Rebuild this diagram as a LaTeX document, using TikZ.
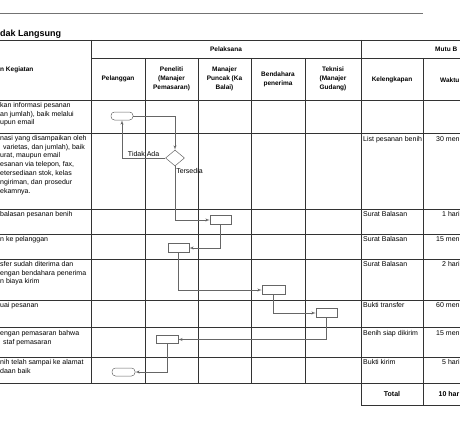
\documentclass[tikz,border=0pt]{standalone}
\usepackage{fontspec}
\setmainfont{Liberation Sans}
\usepackage{tikz}
\usetikzlibrary{arrows,positioning,shapes.geometric}
\colorlet{ln}{black!80}
\colorlet{fl}{black!60}
\newcommand{\tsz}{\fontsize{7}{8.8}\selectfont}
\newcommand{\hsz}{\fontsize{6.5}{9}\selectfont\bfseries}
\tikzset{gline/.style={draw=ln, line width=0.6pt},
         hd/.style={font=\hsz, align=center, inner sep=0pt},
         tx/.style={font=\tsz, align=left, inner sep=0pt, anchor=north west},
         term/.style={draw=fl, rounded corners=3.5pt, minimum width=22pt,
            minimum height=8pt, inner sep=0pt, line width=0.5pt},
         proc/.style={draw=fl, minimum width=21pt, minimum height=9pt,
            inner sep=0pt, line width=0.5pt},
         dec/.style={draw=fl, diamond, minimum width=19pt, minimum height=16pt,
            inner sep=0pt, line width=0.5pt},
         flow/.style={draw=fl, line width=0.5pt, ->, >=latex'},
         lbl/.style={font=\tsz, inner sep=1pt}}

\begin{document}
\begin{tikzpicture}[x=1pt, y=-1pt]
\useasboundingbox (0,0) rectangle (460,420);
\clip (0,0) rectangle (460,420);
% page rule and title
\draw[gline, draw=black!55] (0,13) -- (423,13);
\node[font=\fontsize{9}{10}\selectfont\bfseries, anchor=base west, inner sep=0pt]
  (title) at (0,36.5) {dak Langsung};
% table
\draw[gline] (0,40) -- (460,40) (91,58) -- (460,58) (0,100) -- (460,100)
  (0,133) -- (460,133) (0,209) -- (460,209) (0,234) -- (460,234)
  (0,259) -- (460,259) (0,300) -- (460,300) (0,327) -- (460,327)
  (0,357) -- (460,357) (0,383) -- (460,383) (361,405) -- (460,405);
\draw[gline] (91,40) -- (91,383) (145,58) -- (145,383) (198,58) -- (198,383)
  (251,58) -- (251,383) (305,58) -- (305,383) (361,40) -- (361,405)
  (423,58) -- (423,405);
% header
\node[hd, anchor=west] (hkeg) at (0,70) {n Kegiatan};
\node[hd] (hpel) at (226,49) {Pelaksana};
\node[hd, anchor=west] (hmutu) at (435,49) {Mutu B};
\node[hd] (hpl) at (118,79) {Pelanggan};
\node[hd] (hpn) at (171.5,79) {Peneliti\\(Manajer\\Pemasaran)};
\node[hd] (hmp) at (224.5,79) {Manajer\\Puncak (Ka\\Balai)};
\node[hd] (hbd) at (278,79) {Bendahara\\penerima};
\node[hd] (htk) at (333,79) {Teknisi\\(Manajer\\Gudang)};
\node[hd] (hkl) at (392,80) {Kelengkapan};
\node[hd, anchor=west] (hwk) at (440,80) {Waktu};
% activities
\node[tx] (r1) at (0,102) {kan informasi pesanan\\an jumlah), baik melalui\\upun email};
\node[tx] (r2) at (0,135) {nasi yang disampaikan oleh\\\hspace{3pt}varietas, dan jumlah), baik\\urat, maupun email\\esanan via telepon, fax,\\etersediaan stok, kelas\\ngiriman, dan prosedur\\ekamnya.};
\node[tx] (r3) at (0,211) {balasan pesanan benih};
\node[tx] (r4) at (0,236) {n ke pelanggan};
\node[tx] (r5) at (0,261) {sfer sudah diterima dan\\engan bendahara penerima\\n biaya kirim};
\node[tx] (r6) at (0,302) {uai pesanan};
\node[tx] (r7) at (0,330) {engan pemasaran bahwa\\\hspace{3pt}staf pemasaran};
\node[tx] (r8) at (0,359) {nih telah sampai ke alamat\\daan baik};
% kelengkapan and waktu
\node[tx] (k2) at (363,136) {List pesanan benih};
\node[tx] (k3) at (363,211) {Surat Balasan};
\node[tx] (k4) at (363,236) {Surat Balasan};
\node[tx] (k5) at (363,261) {Surat Balasan};
\node[tx] (k6) at (363,302) {Bukti transfer};
\node[tx] (k7) at (363,330) {Benih siap dikirim};
\node[tx] (k8) at (363,359) {Bukti kirim};
\node[tx] (w2) at (436,136) {30 men};
\node[tx] (w3) at (442,211) {1 hari};
\node[tx] (w4) at (436,236) {15 men};
\node[tx] (w5) at (442,261) {2 hari};
\node[tx] (w6) at (436,302) {60 men};
\node[tx] (w7) at (436,330) {15 men};
\node[tx] (w8) at (442,359) {5 hari};
\node[font=\tsz\bfseries, inner sep=0pt] (tot) at (392,394) {Total};
\node[font=\tsz\bfseries, inner sep=0pt, anchor=west] (wtot) at (438.5,394) {10 har};
% flow
\node[term] (t1) at (122,116) {};
\node[dec] (cek) at (175,158) {};
\node[proc] (b1) at (220.5,220) {};
\node[proc] (b2) at (178.5,248) {};
\node[proc, minimum width=23pt] (b3) at (273.5,290) {};
\node[proc] (b4) at (326.5,313) {};
\node[proc, minimum width=22pt, minimum height=8pt] (b5) at (167,339.5) {};
\node[term, minimum width=23pt] (t2) at (123.5,372) {};
\draw[flow] (t1.east) -| (cek.north);
\draw[flow] (cek.west) -| node[lbl, above, pos=0.25] {Tidak Ada} (t1.south);
\draw[flow] (cek.south) |- node[lbl, anchor=west, pos=0.04] {Tersedia} (b1.west);
\draw[flow] (b1.south) |- (b2.east);
\draw[flow] (b2.south) |- (b3.west);
\draw[flow] (b3.south) |- (b4.west);
\draw[flow] (b4.south) |- (b5.east);
\draw[flow] (b5.south) |- (t2.east);
\end{tikzpicture}
\end{document}
